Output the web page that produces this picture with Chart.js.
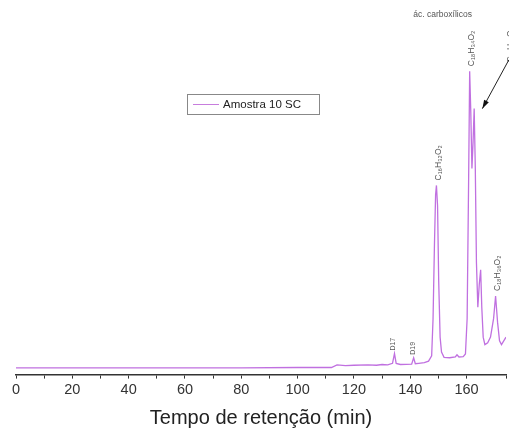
<!DOCTYPE html>
<html>
<head>
<meta charset="utf-8">
<script src="https://cdn.jsdelivr.net/npm/chart.js@4.4.1/dist/chart.umd.min.js"></script>
<style>
  html, body { margin: 0; padding: 0; background: #fff; }
  #chart { display: block; }
</style>
</head>
<body>
<canvas id="chart" width="509" height="434"></canvas>
<script>
const tempos = [0, 20, 40, 60, 80, 100, 112, 114, 117, 120, 125, 128, 130, 132, 133.7, 134.4, 135, 136.5, 140.5, 141.2, 141.8,
  143, 145, 146.5, 147.6, 148.1, 148.6, 149, 149.3, 149.7, 150.1, 150.6, 151.1, 152, 154, 156, 156.6, 157.3, 158.8, 159.6,
  160.2, 160.7, 161.1, 161.5, 161.9, 162.3, 162.7, 163.1, 163.5, 164, 164.5, 165, 165.4, 165.9, 166.5, 167.5, 168.5,
  169.6, 170.3, 171, 171.7, 172.4, 173.2, 174];
const intensidade = [1.8, 1.8, 1.8, 1.8, 1.8, 1.9, 1.9, 2.6, 2.4, 2.5, 2.6, 2.5, 2.7, 2.6, 3.0, 5.6, 3.0, 2.7, 2.8, 4.5, 2.9,
  3.0, 3.2, 3.6, 5, 15, 35, 48, 50.5, 45, 25, 10, 6, 4.6, 4.5, 4.7, 5.3, 4.7, 4.8, 5.5,
  15, 50, 81, 70, 55, 62, 71, 55, 30, 18, 24, 28, 18, 10, 8, 8.5, 10,
  15, 21, 14, 9, 8, 9, 10];

const serie = 'Amostra 10 SC';
const tituloX = 'Tempo de retenção (min)';

// rótulos dos picos: tempo, intensidade do pico, texto
const picosTempo = [134.4, 141.2, 149.3, 161.1, 170.3, 175];
const picosValor = [5.6, 4.5, 50.5, 81, 21, 82];
const picosTexto = ['D17', 'D19', 'C₁₆H₃₂O₂', 'C₁₈H₃₄O₂', 'C₁₈H₃₆O₂', 'C₁₈H₃₂O₂'];

const pontos = tempos.map((t, i) => ({ x: t, y: intensidade[i] }));

const anotacoes = {
  id: 'anotacoes',
  afterDatasetsDraw(chart) {
    const ctx = chart.ctx;
    const xs = chart.scales.x, ys = chart.scales.y;
    ctx.save();

    // rótulos verticais
    ctx.fillStyle = '#555';
    picosTexto.forEach((txt, i) => {
      const px = xs.getPixelForValue(picosTempo[i]);
      const py = ys.getPixelForValue(picosValor[i]);
      const small = txt.startsWith('D');
      ctx.save();
      ctx.translate(px + (small ? -1 : 2), py - (small ? 3 : 5));
      ctx.rotate(-Math.PI / 2);
      ctx.font = (small ? '7px' : '8.5px') + ' "Liberation Sans", Arial, sans-serif';
      ctx.textAlign = 'left';
      ctx.textBaseline = 'middle';
      ctx.fillText(txt, 0, 0);
      ctx.restore();
    });

    // título do grupo
    ctx.font = '8.5px "Liberation Sans", Arial, sans-serif';
    ctx.textAlign = 'center';
    ctx.textBaseline = 'middle';
    ctx.fillText('ác. carboxílicos', xs.getPixelForValue(151.5), ys.getPixelForValue(96));

    // seta
    const x1 = xs.getPixelForValue(175), y1 = ys.getPixelForValue(84);
    const x2 = xs.getPixelForValue(165.6), y2 = ys.getPixelForValue(71);
    ctx.strokeStyle = '#222';
    ctx.fillStyle = '#111';
    ctx.lineWidth = 1;
    ctx.beginPath(); ctx.moveTo(x1, y1); ctx.lineTo(x2, y2); ctx.stroke();
    const a = Math.atan2(y2 - y1, x2 - x1);
    ctx.beginPath();
    ctx.moveTo(x2, y2);
    ctx.lineTo(x2 - 9 * Math.cos(a - 0.3), y2 - 9 * Math.sin(a - 0.3));
    ctx.lineTo(x2 - 9 * Math.cos(a + 0.3), y2 - 9 * Math.sin(a + 0.3));
    ctx.closePath(); ctx.fill();

    // legenda
    ctx.strokeStyle = '#888';
    ctx.strokeRect(187.5, 94.5, 132, 20);
    ctx.strokeStyle = '#c77ddd';
    ctx.beginPath(); ctx.moveTo(193, 104.5); ctx.lineTo(219, 104.5); ctx.stroke();
    ctx.fillStyle = '#222';
    ctx.font = '11.5px "Liberation Sans", Arial, sans-serif';
    ctx.textAlign = 'left';
    ctx.fillText(serie, 223, 105);

    ctx.restore();
  }
};

new Chart(document.getElementById('chart'), {
  type: 'line',
  data: {
    datasets: [{
      label: serie,
      data: pontos,
      borderColor: '#c070e0',
      borderWidth: 1.3,
      pointRadius: 0,
      tension: 0,
      fill: false
    }]
  },
  options: {
    responsive: false,
    animation: false,
    devicePixelRatio: 1,
    layout: { padding: { left: 16, right: 0, top: 0, bottom: 2 } },
    plugins: { legend: { display: false }, tooltip: { enabled: false } },
    scales: {
      x: {
        type: 'linear',
        min: 0,
        max: 174,
        border: { display: true, color: '#333', width: 1.5 },
        grid: { drawOnChartArea: false, drawTicks: true, tickLength: 4, color: '#333' },
        ticks: {
          stepSize: 10,
          autoSkip: false,
          maxRotation: 0,
          padding: 3,
          color: '#333',
          font: { family: '"Liberation Sans", Arial, sans-serif', size: 14.5 },
          callback: v => (v % 20 === 0 ? v : '')
        },
        title: {
          display: true,
          text: tituloX,
          color: '#222',
          padding: { top: 4, bottom: 2 },
          font: { family: '"Liberation Sans", Arial, sans-serif', size: 20 }
        }
      },
      y: { display: false, min: 0, max: 100 }
    }
  },
  plugins: [anotacoes]
});
</script>
</body>
</html>
